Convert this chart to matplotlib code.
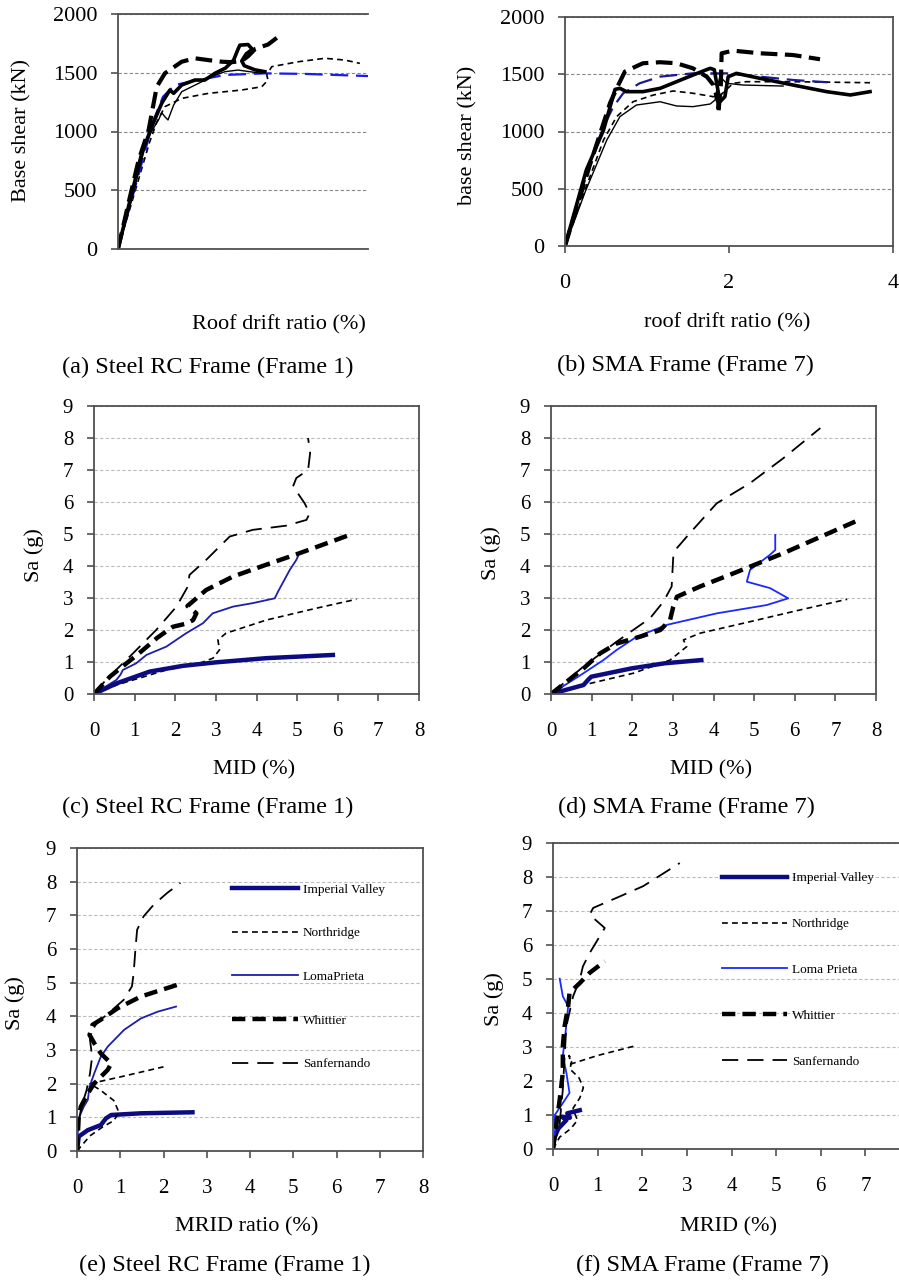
import matplotlib
matplotlib.use("Agg")
import matplotlib.pyplot as plt

plt.rcParams['font.family'] = ['Liberation Serif', 'DejaVu Serif']

# (a) pushover curves, Steel RC frame: (roof drift %, base shear kN)
a_thick_dash = [(0, 0), (0.15, 350), (0.33, 757), (0.49, 1013), (0.62, 1381), (0.75, 1495),
                (1.02, 1594), (1.23, 1623), (1.44, 1608), (1.66, 1594), (1.82, 1590),
                (1.98, 1600), (2.08, 1640), (2.2, 1705), (2.4, 1740), (2.56, 1805)]
a_thick_solid = [(0, 0), (0.2, 430), (0.38, 815), (0.54, 1041), (0.7, 1241), (0.83, 1353),
                 (0.89, 1325), (1.02, 1396), (1.23, 1438), (1.39, 1438), (1.55, 1495),
                 (1.72, 1540), (1.85, 1608), (1.92, 1700), (1.95, 1735), (2.08, 1740),
                 (2.15, 1700), (2.05, 1660), (1.98, 1600), (2.02, 1560), (2.19, 1525), (2.35, 1509)]
a_thin_solid = [(0, 0), (0.2, 380), (0.46, 928), (0.58, 1040), (0.65, 1100), (0.7, 1160),
                (0.75, 1126), (0.8, 1098), (0.89, 1225), (1.02, 1339), (1.29, 1410),
                (1.5, 1467), (1.71, 1509), (1.92, 1523), (2.3, 1495)]
a_blue_dash = [(0, 0), (0.25, 480), (0.57, 1098), (0.72, 1296), (0.91, 1396), (1.29, 1438),
               (1.71, 1481), (2.35, 1495), (3.0, 1490), (4.0, 1472)]
a_thin_dash = [(0, 0), (0.25, 450), (0.5, 900), (0.62, 1080), (0.75, 1211), (1.02, 1282),
               (1.45, 1325), (1.98, 1353), (2.3, 1381), (2.4, 1438), (2.38, 1481),
               (2.46, 1552), (2.89, 1594), (3.31, 1623), (3.63, 1608), (3.87, 1580)]

# (b) pushover curves, SMA frame
b_thick_solid = [(0, 0), (0.26, 664), (0.47, 1013), (0.61, 1368), (0.67, 1377), (0.75, 1348),
                 (0.95, 1348), (1.16, 1377), (1.36, 1435), (1.56, 1493), (1.77, 1552),
                 (1.82, 1540), (1.89, 1260), (1.95, 1304), (1.99, 1478), (2.09, 1508),
                 (2.38, 1464), (2.78, 1406), (3.19, 1348), (3.48, 1319), (3.72, 1348)]
b_thick_dash = [(0, 0), (0.3, 700), (0.55, 1250), (0.65, 1406), (0.73, 1523), (0.95, 1596),
                (1.16, 1605), (1.36, 1596), (1.56, 1552), (1.73, 1478), (1.81, 1406),
                (1.87, 1250), (1.87, 1159), (1.9, 1400), (1.91, 1683), (2.05, 1706),
                (2.38, 1683), (2.78, 1668), (3.11, 1631)]
b_blue_dash = [(0, 0), (0.33, 780), (0.47, 1042), (0.59, 1217), (0.71, 1334), (0.91, 1421),
               (1.16, 1479), (1.56, 1508), (1.97, 1508), (2.38, 1479), (2.78, 1450), (3.2, 1430)]
b_thin_dash = [(0, 0), (0.25, 500), (0.47, 926), (0.63, 1130), (0.83, 1260), (1.08, 1319),
               (1.32, 1354), (1.56, 1334), (1.81, 1304), (1.9, 1320), (2.05, 1421),
               (2.21, 1435), (2.78, 1435), (3.72, 1426)]
b_thin_solid = [(0, 0), (0.25, 480), (0.51, 926), (0.67, 1130), (0.87, 1231), (1.16, 1260),
                (1.36, 1223), (1.56, 1217), (1.77, 1240), (1.83, 1275), (1.86, 1400),
                (1.89, 1479), (1.97, 1421), (2.17, 1406), (2.66, 1397)]

# (c) IDA, MID (%) vs Sa (g), Steel RC frame
c_imperial = [(0, 0), (0.55, 0.33), (1.37, 0.7), (2.19, 0.88), (3.01, 0.99), (4.24, 1.12), (5.88, 1.22)]
c_northridge = [(0, 0), (0.6, 0.3), (1.78, 0.75), (2.6, 0.96), (2.93, 1.12), (3.09, 1.38),
                (3.05, 1.69), (3.25, 1.9), (4.24, 2.31), (5.47, 2.68), (6.46, 2.96)]
c_loma = [(0, 0), (0.55, 0.44), (0.65, 0.6), (0.71, 0.75), (1.04, 0.96), (1.29, 1.22),
          (1.78, 1.48), (2.27, 1.9), (2.68, 2.21), (2.92, 2.52), (3.42, 2.73), (3.91, 2.84),
          (4.45, 2.99), (4.53, 3.2), (4.82, 3.88), (4.98, 4.19), (5.02, 4.3)]
c_whittier = [(0, 0), (0.39, 0.54), (0.8, 0.96), (0.96, 1.12), (1.21, 1.38), (1.45, 1.64),
              (1.55, 1.75), (1.94, 2.1), (2.27, 2.2), (2.44, 2.31), (2.52, 2.52), (2.3, 2.75),
              (2.76, 3.25), (3.42, 3.67), (4.24, 4.04), (5.06, 4.4), (6.29, 4.97)]
c_sanfernando = [(0, 0), (0.3, 0.45), (0.96, 1.27), (1.53, 2.0), (2.03, 2.73), (2.31, 3.36),
                 (2.35, 3.72), (2.76, 4.19), (3.34, 4.92), (3.91, 5.13), (4.73, 5.26),
                 (5.23, 5.44), (5.31, 5.65), (5.18, 5.97), (4.9, 6.49), (4.98, 6.75),
                 (5.27, 7.0), (5.32, 7.53), (5.27, 8.0)]

# (d) IDA, MID (%) vs Sa (g), SMA frame
d_imperial = [(0, 0), (0.8, 0.28), (0.91, 0.44), (0.99, 0.54), (1.98, 0.8), (2.8, 0.96), (3.7, 1.06)]
d_northridge = [(0, 0), (0.96, 0.33), (2.03, 0.65), (2.93, 1.06), (3.34, 1.48), (3.26, 1.69),
                (3.67, 1.9), (4.9, 2.26), (6.14, 2.63), (7.29, 2.96)]
d_loma = [(0, 0), (0.8, 0.65), (1.29, 1.06), (1.62, 1.38), (2.11, 1.79), (2.85, 2.16),
          (4.08, 2.52), (5.31, 2.78), (5.84, 2.99), (5.39, 3.31), (4.82, 3.51), (4.9, 3.88),
          (5.39, 4.35), (5.52, 4.5), (5.52, 4.97)]
d_whittier = [(0, 0), (0.8, 0.8), (1.21, 1.27), (1.62, 1.58), (2.19, 1.79), (2.69, 2.0),
              (2.93, 2.31), (3.01, 2.73), (3.1, 3.04), (3.67, 3.36), (4.49, 3.77),
              (5.72, 4.4), (7.49, 5.39)]
d_sanfernando = [(0, 0), (0.8, 0.86), (1.62, 1.64), (2.44, 2.37), (2.77, 2.89), (2.97, 3.36),
                 (3.01, 4.3), (3.1, 4.56), (3.42, 5.03), (4.08, 5.96), (4.9, 6.59),
                 (5.72, 7.37), (6.63, 8.31)]

# (e) IDA, MRID (%) vs Sa (g), Steel RC frame
e_imperial = [(0, 0), (0.04, 0.43), (0.25, 0.62), (0.55, 0.77), (0.67, 0.97), (0.79, 1.07),
              (1.48, 1.12), (2.67, 1.15)]
e_northridge = [(0, 0), (0.3, 0.45), (0.6, 0.72), (0.85, 0.9), (0.97, 1.15), (0.85, 1.5),
                (0.55, 1.8), (0.3, 2.0), (1.0, 2.2), (2.0, 2.5)]
e_loma = [(0, 0), (0.02, 0.6), (0.05, 1.0), (0.15, 1.3), (0.25, 1.52), (0.29, 1.91),
          (0.4, 2.31), (0.55, 2.8), (0.71, 3.1), (1.09, 3.6), (1.48, 3.94), (1.87, 4.14), (2.29, 4.29)]
e_whittier = [(0, 0), (0.04, 1.02), (0.09, 1.32), (0.25, 1.71), (0.4, 2.01), (0.71, 2.41),
              (0.79, 2.6), (0.71, 2.7), (0.55, 2.9), (0.4, 3.2), (0.29, 3.45), (0.36, 3.75),
              (0.55, 3.9), (0.94, 4.24), (1.48, 4.59), (2.33, 4.94)]
e_sanfernando = [(0, 0), (0.03, 0.8), (0.1, 1.3), (0.22, 1.8), (0.3, 2.3), (0.35, 2.8),
                 (0.3, 3.3), (0.31, 3.5), (0.46, 3.8), (0.77, 4.14), (1.08, 4.49), (1.27, 4.89),
                 (1.31, 5.28), (1.35, 5.98), (1.39, 6.57), (1.54, 6.97), (1.77, 7.31),
                 (2.08, 7.66), (2.39, 7.96)]

# (f) IDA, MRID (%) vs Sa (g), SMA frame
f_imperial = [(0, 0), (0.02, 0.3), (0.12, 0.6), (0.3, 0.85), (0.2, 0.95), (0.38, 0.92),
              (0.32, 1.05), (0.6, 1.14)]
f_northridge = [(0, 0), (0.15, 0.35), (0.4, 0.6), (0.55, 0.85), (0.5, 1.0), (0.45, 1.2),
                (0.6, 1.5), (0.68, 1.8), (0.58, 2.1), (0.38, 2.35), (0.42, 2.6), (0.36, 2.75),
                (0.4, 2.5), (1.0, 2.75), (1.8, 3.02)]
f_loma = [(0, 0), (0.05, 0.6), (0.02, 0.96), (0.22, 1.35), (0.37, 1.65), (0.3, 2.24),
          (0.22, 2.73), (0.28, 3.41), (0.34, 4.2), (0.22, 4.49), (0.15, 5.01)]
f_whittier = [(0, 0), (0.07, 0.67), (0.15, 1.45), (0.22, 2.24), (0.22, 3.02), (0.26, 3.61),
              (0.34, 4.2), (0.37, 4.59), (0.6, 4.88), (0.82, 5.18), (1.16, 5.52)]
f_sanfernando = [(0, 0), (0.15, 0.76), (0.22, 1.75), (0.26, 2.73), (0.3, 3.61), (0.45, 4.49),
                 (0.6, 4.98), (0.67, 5.37), (0.82, 5.76), (1.16, 6.5), (0.82, 6.89),
                 (0.9, 7.09), (1.5, 7.43), (2.02, 7.73), (2.84, 8.41)]

shear_ticks = [0, 500, 1000, 1500, 2000]
sa_ticks = list(range(10))
drift_ticks = list(range(9))

W, H = 899, 1284
fig = plt.figure(figsize=(W / 100, H / 100), dpi=100)


def box(left, top, right, bottom):
    return [left / W, 1 - bottom / H, (right - left) / W, (bottom - top) / H]


def ftxt(x, y, s, size, rot=0):
    fig.text(x / W, 1 - y / H, s, ha='center', va='center', fontsize=size, rotation=rot)


def curve(ax, pts, **style):
    ax.plot([p[0] for p in pts], [p[1] for p in pts], **style)


def frame(ax, right=True, tsize=14):
    for s in ax.spines.values():
        s.set_color('#505050')
        s.set_linewidth(1.3)
    ax.spines['right'].set_visible(right)
    ax.tick_params(direction='out', length=5, width=1.2, color='#505050', labelsize=tsize)
    ax.tick_params(axis='y', pad=10)
    ax.tick_params(axis='x', pad=15)
    ax.set_axisbelow(True)


# pushover styles
thick_solid = dict(color='black', lw=2.6)
thin_solid = dict(color='black', lw=1.0)
thick_dash = dict(color='black', lw=3.0, dashes=(4, 1.8))
thin_dash = dict(color='black', lw=1.2, dashes=(3.5, 2.5))

# IDA styles per record
IV = dict(color='#0c0c80', lw=3.2)
NR = dict(color='black', lw=1.2, dashes=(3.5, 2.5))
WH = dict(color='black', lw=3.2, dashes=(3, 1.6))
SF = dict(color='black', lw=1.3, dashes=(9, 5))

# ---- (a)
ax = fig.add_axes(box(118, 14, 368, 249))
curve(ax, a_thin_dash, **thin_dash)
curve(ax, a_blue_dash, color='#1a1aee', lw=1.6, dashes=(8, 3.5))
curve(ax, a_thin_solid, **thin_solid)
curve(ax, a_thick_solid, **thick_solid)
curve(ax, a_thick_dash, **thick_dash)
ax.set_xlim(0, 4)
ax.set_ylim(0, 2000)
ax.set_yticks(shear_ticks)
ax.set_xticks([])
ax.grid(axis='y', ls=(0, (3, 2)), color='#888888', lw=0.8)
frame(ax, right=False, tsize=16)
ftxt(22, 130, 'Base shear (kN)', 16, 90)
ftxt(279, 325, 'Roof drift ratio (%)', 16)
ftxt(208, 367, '(a) Steel RC Frame (Frame 1)', 17.5)

# ---- (b)
ax = fig.add_axes(box(565, 17, 893, 246))
curve(ax, b_thin_dash, **thin_dash)
curve(ax, b_blue_dash, color='#1a1a90', lw=1.6, dashes=(8, 3.5))
curve(ax, b_thin_solid, **thin_solid)
curve(ax, b_thick_solid, **thick_solid)
curve(ax, b_thick_dash, **thick_dash)
ax.set_xlim(0, 4)
ax.set_ylim(0, 2000)
ax.set_yticks(shear_ticks)
ax.set_xticks([0, 2, 4])
ax.grid(axis='y', ls=(0, (3, 2)), color='#888888', lw=0.8)
frame(ax, tsize=16)
ftxt(468, 135, 'base shear (kN)', 16, 90)
ftxt(727, 323, 'roof drift ratio (%)', 16)
ftxt(685, 365, '(b) SMA Frame (Frame 7)', 17.5)


def ida_axes(rect, right=True, xticks=drift_ticks):
    ax = fig.add_axes(rect)
    ax.set_xlim(0, 8)
    ax.set_ylim(0, 9)
    ax.set_xticks(xticks)
    ax.set_yticks(sa_ticks)
    ax.grid(axis='y', ls=(0, (3, 2)), color='#bbbbbb', lw=0.8)
    frame(ax, right=right, tsize=15)
    return ax


# ---- (c)
ax = ida_axes(box(94, 406, 419, 694))
curve(ax, c_sanfernando, **SF)
curve(ax, c_northridge, **NR)
curve(ax, c_loma, color='#1e1ea8', lw=1.3)
curve(ax, c_imperial, **IV)
curve(ax, c_whittier, **WH)
ftxt(34, 555, 'Sa (g)', 16, 90)
ftxt(254, 770, 'MID (%)', 16)
ftxt(208, 807, '(c) Steel RC Frame (Frame 1)', 17.5)

# ---- (d)
ax = ida_axes(box(551, 406, 876, 694))
curve(ax, d_sanfernando, **SF)
curve(ax, d_northridge, **NR)
curve(ax, d_loma, color='#1a2aff', lw=1.3)
curve(ax, d_imperial, **IV)
curve(ax, d_whittier, **WH)
ftxt(491, 553, 'Sa (g)', 16, 90)
ftxt(711, 770, 'MID (%)', 16)
ftxt(686, 807, '(d) SMA Frame (Frame 7)', 17.5)

# ---- (e)
ax = ida_axes(box(77, 848, 423, 1151))
curve(ax, e_imperial, label='Imperial Valley', **IV)
curve(ax, e_northridge, label='Northridge', **NR)
curve(ax, e_loma, label='LomaPrieta', color='#1e1ea8', lw=1.3)
curve(ax, e_whittier, label='Whittier', **WH)
curve(ax, e_sanfernando, label='Sanfernando', **SF)
ax.legend(loc='upper left', bbox_to_anchor=(0.447, 0.883), frameon=False, fontsize=9.5,
          borderpad=0, borderaxespad=0, handlelength=5.0, handletextpad=0.4, labelspacing=2.38)
ftxt(15, 1003, 'Sa (g)', 16, 90)
ftxt(247, 1227, 'MRID ratio (%)', 16)
ftxt(225, 1265, '(e) Steel RC Frame (Frame 1)', 17.5)

# ---- (f): the right part of the axes runs off the figure edge, as in the reference
ax = ida_axes(box(553, 843, 910, 1149), xticks=drift_ticks[:-1])
curve(ax, f_imperial, label='Imperial Valley', **IV)
curve(ax, f_northridge, label='Northridge', **NR)
curve(ax, f_loma, label='Loma Prieta', color='#1a2aff', lw=1.3)
curve(ax, f_whittier, label='Whittier', **WH)
curve(ax, f_sanfernando, label='Sanfernando', **SF)
ax.legend(loc='upper left', bbox_to_anchor=(0.473, 0.905), frameon=False, fontsize=9.5,
          borderpad=0, borderaxespad=0, handlelength=4.9, handletextpad=0.4, labelspacing=2.55)
ftxt(494, 999, 'Sa (g)', 16, 90)
ftxt(728, 1227, 'MRID (%)', 16)
ftxt(702, 1265, '(f) SMA Frame (Frame 7)', 17.5)

fig.savefig('out.png', dpi=100)
